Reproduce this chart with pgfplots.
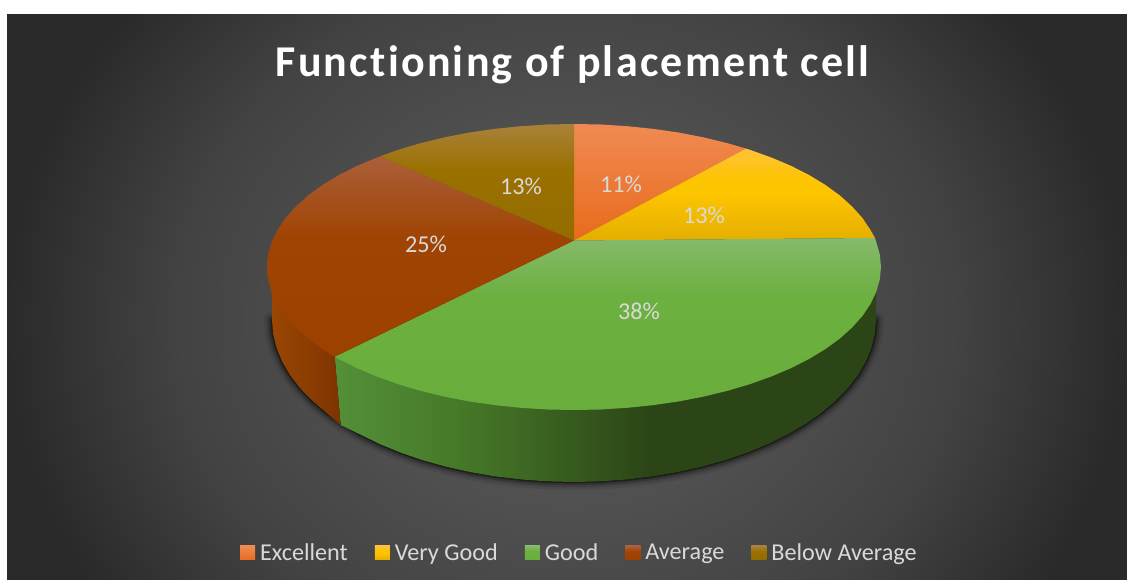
\documentclass[border=0pt]{standalone}
\usepackage{fontspec}
\usepackage{pgfplots}
\pgfplotsset{compat=1.18}
\setmainfont{Carlito}
\newfontfamily\titlef[LetterSpace=5.15,Ligatures=NoCommon]{Carlito}
\definecolor{lab}{HTML}{D9D9D9}
\pgfdeclareradialshading{bgs}{\pgfpointorigin}{rgb(0bp)=(.36,.36,.36); rgb(8bp)=(.31,.31,.31); rgb(14bp)=(.26,.26,.26); rgb(20bp)=(.165,.165,.165); rgb(50bp)=(.165,.165,.165)}
\definecolor{g1}{HTML}{86BA6A}\definecolor{g2}{HTML}{6CB040}\definecolor{g3}{HTML}{69AD3C}
\pgfdeclareverticalshading{greenfacex}{100bp}{color(0bp)=(g3); color(25bp)=(g3); color(58bp)=(g2); color(75bp)=(g1); color(100bp)=(g1)}
\definecolor{sgl}{HTML}{549038}\definecolor{sgm}{HTML}{447527}\definecolor{sgr}{HTML}{2C4517}
\pgfdeclarehorizontalshading{greenside}{100bp}{color(0bp)=(sgl); color(25bp)=(sgl); color(38bp)=(sgm); color(54bp)=(sgr); color(100bp)=(sgr)}
\definecolor{sbl}{HTML}{9A4603}\definecolor{sbr}{HTML}{7E3401}
\definecolor{o1}{HTML}{F08A52}\definecolor{o2}{HTML}{F47A26}\definecolor{o3}{HTML}{E86B1C}
\definecolor{y1}{HTML}{FEC238}\definecolor{y2}{HTML}{FDC400}\definecolor{y3}{HTML}{E4AE00}
\pgfdeclareverticalshading{yellowface}{100bp}{color(0bp)=(y3); color(25bp)=(y3); color(50bp)=(y2); color(58bp)=(y2); color(75bp)=(y1); color(100bp)=(y1)}
\definecolor{b1}{HTML}{AB5F3A}\definecolor{b2}{HTML}{A04404}\definecolor{b3}{HTML}{9D4100}
\pgfdeclareverticalshading{brownface}{100bp}{color(0bp)=(b3); color(25bp)=(b3); color(55bp)=(b2); color(75bp)=(b1); color(100bp)=(b1)}
\definecolor{l1}{HTML}{A9823A}\definecolor{l2}{HTML}{9A7000}\definecolor{l3}{HTML}{946C00}
\pgfdeclareverticalshading{oliveface}{100bp}{color(0bp)=(l3); color(25bp)=(l3); color(55bp)=(l2); color(75bp)=(l1); color(100bp)=(l1)}
\begin{document}
\begin{tikzpicture}
\begin{axis}[
  width=1127pt, height=580pt, scale only axis,
  xmin=0, xmax=1127, ymin=0, ymax=580, y dir=reverse,
  hide axis, clip=true,
  title={\titlef\bfseries\fontsize{44}{46}\selectfont Functioning of placement cell},
  title style={at={(0.508,0.878)},anchor=center,text=white,inner sep=0pt},
  legend columns=-1,
  legend cell align=left,
  legend image code/.code={\path[#1] (0pt,-7pt) rectangle (15pt,7pt);},
  legend style={at={(0.213,0.0466)},anchor=west,draw=none,fill=none,inner sep=0pt,outer sep=0pt,
    font=\fontsize{24.2}{26}\selectfont,text=lab,
    nodes={inner sep=0pt,outer sep=0pt},
    /tikz/every even column/.append style={column sep=27pt},
    /tikz/every odd column/.append style={column sep=5pt}},
]
% background
\path[shading=bgs] (axis cs:-133,-300) rectangle (axis cs:1267,940);
\fill[white] (axis cs:0,0) rectangle (axis cs:1127,14);
\fill[white] (axis cs:0,0) rectangle (axis cs:7,580);

% soft shadow under the pie
\foreach \w/\o in {16/0.08,11/0.12,7/0.2,3/0.4}{
\edef\temp{\noexpand\addplot[forget plot,fill=black,draw=black,line width=\w pt,line join=round,opacity=\o] coordinates {
(876,320)(874.9,334.1)(871.4,348.1)(865.7,361.9)(857.8,375.4)(847.7,388.5)(835.5,401)(821.4,412.9)(805.3,424.1)(787.5,434.6)(768.1,444.1)(747.2,452.7)(725,460.3)(701.6,466.8)(677.3,472.2)(652.2,476.5)(626.4,479.5)(600.3,481.4)(574,482)(547.7,481.4)(521.6,479.5)(495.8,476.5)(470.7,472.2)(446.4,466.8)(423,460.3)(400.8,452.7)(379.9,444.1)(360.5,434.6)(342.7,424.1)(326.6,412.9)(312.5,401)(300.3,388.5)(290.2,375.4)(282.3,361.9)(276.6,348.1)(273.1,334.1)(272,320)(574,290)
} --cycle;}
\temp
}

% side walls
\addplot[forget plot,draw=none,shading=greenside] coordinates {
(876.3,291.8)(876,320)(874.9,334.1)(871.4,348.1)(865.7,361.9)(857.8,375.4)(847.7,388.5)(835.5,401)(821.4,412.9)(805.3,424.1)(787.5,434.6)(768.1,444.1)(747.2,452.7)(725,460.3)(701.6,466.8)(677.3,472.2)(652.2,476.5)(626.4,479.5)(600.3,481.4)(574,482)(547.7,481.4)(521.6,479.5)(495.8,476.5)(470.7,472.2)(446.4,466.8)(423,460.3)(400.8,452.7)(379.9,444.1)(360.5,434.6)(340.7,425)(334.7,356.7)(574,267)
} --cycle;
\addplot[forget plot,draw=none,left color=sbl,right color=sbr] coordinates {
(271.7,291.8)(272,320)(273.1,334.1)(276.6,348.1)(282.3,361.9)(290.2,375.4)(300.3,388.5)(312.5,401)(326.6,412.9)(340.7,425)(334.7,356.7)(300,300)
} --cycle;

% top face
\addplot[draw=none,top color=o1,middle color=o2,bottom color=o3] coordinates {
(574,240.5)(574,124)(600.8,124.5)(627.3,126.2)(653.5,128.9)(679,132.6)(703.7,137.4)(727.5,143.2)(746,148.6)
} --cycle;
\addlegendentry{Excellent}
\addplot[draw=none,shading=yellowface] coordinates {
(574,240.5)(746,148.6)(750.1,149.9)(771.3,157.5)(791.1,165.9)(809.2,175.1)(825.5,185)(839.9,195.5)(852.2,206.6)(862.5,218.1)(870.5,230)(875,238)
} --cycle;
\addlegendentry{Very Good}
\addplot[draw=none,shading=greenfacex] coordinates {
(574,240.5)(875,238)(876.3,242.2)(879.8,254.5)(881,267)(879.8,279.5)(876.3,291.8)(870.5,304)(862.5,315.9)(852.2,327.4)(839.9,338.5)(825.5,349)(809.2,358.9)(791.1,368.1)(771.3,376.5)(750.1,384.1)(727.5,390.8)(703.7,396.6)(679,401.4)(653.5,405.1)(627.3,407.8)(600.8,409.5)(574,410)(547.2,409.5)(520.7,407.8)(494.5,405.1)(469,401.4)(444.3,396.6)(420.5,390.8)(397.9,384.1)(376.7,376.5)(356.9,368.1)(338.8,358.9)(334.7,356.7)
} --cycle;
\addlegendentry{Good}
\addplot[draw=none,shading=brownface] coordinates {
(574,240.5)(334.7,356.7)(322.5,349)(308.1,338.5)(295.8,327.4)(285.5,315.9)(277.5,304)(271.7,291.8)(268.2,279.5)(267,267)(268.2,254.5)(271.7,242.2)(277.5,230)(285.5,218.1)(295.8,206.6)(308.1,195.5)(322.5,185)(338.8,175.1)(356.9,165.9)(380,156.3)
} --cycle;
\addlegendentry{Average}
\addplot[draw=none,shading=oliveface] coordinates {
(574,240.5)(380,156.3)(397.9,149.9)(420.5,143.2)(444.3,137.4)(469,132.6)(494.5,128.9)(520.7,126.2)(547.2,124.5)(574,124)
} --cycle;
\addlegendentry{Below Average}

% data labels
\node[text=lab,font=\fontsize{24.2}{26}\selectfont,inner sep=0pt] at (axis cs:621,184) {11\%};
\node[text=lab,font=\fontsize{24.2}{26}\selectfont,inner sep=0pt] at (axis cs:704,215) {13\%};
\node[text=lab,font=\fontsize{24.2}{26}\selectfont,inner sep=0pt] at (axis cs:639,311) {38\%};
\node[text=lab,font=\fontsize{24.2}{26}\selectfont,inner sep=0pt] at (axis cs:426,244) {25\%};
\node[text=lab,font=\fontsize{24.2}{26}\selectfont,inner sep=0pt] at (axis cs:521,186) {13\%};
\end{axis}
\end{tikzpicture}
\end{document}
